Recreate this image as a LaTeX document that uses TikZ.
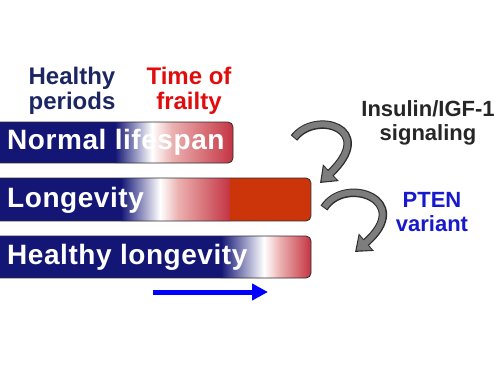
\documentclass[tikz,border=0pt]{standalone}
\usepackage{fontspec}
\setmainfont{Liberation Sans}
\usetikzlibrary{arrows.meta}
\definecolor{navy}{RGB}{20,22,118}
\definecolor{headnavy}{RGB}{28,38,98}
\definecolor{frailred}{RGB}{225,12,12}
\definecolor{pinkc}{RGB}{236,178,178}
\definecolor{redc}{RGB}{196,52,66}
\definecolor{orangered}{RGB}{204,52,10}
\definecolor{ptenblue}{RGB}{24,24,205}
\definecolor{txtdark}{RGB}{38,38,38}
\definecolor{arrowgray}{RGB}{125,125,125}
\definecolor{arrowline}{RGB}{45,45,45}
\tikzset{
  bartext/.style={text=white, anchor=west, inner sep=0pt, font=\bfseries\fontsize{28}{30}\selectfont\addfontfeatures{LetterSpace=2}},
  headtext/.style={align=center, inner sep=0pt, font=\bfseries\fontsize{24}{24.5}\selectfont},
  sidetext/.style={align=center, inner sep=0pt, font=\bfseries\fontsize{22}{24}\selectfont},
  barline/.style={draw=arrowline, line width=0.8pt, rounded corners=5pt},
  curveout/.style={line width=8.5pt, draw=arrowline, -{Triangle[width=22pt,length=15pt]}},
  curvein/.style={line width=6pt, draw=arrowgray, shorten >=2pt, shorten <=1pt, -{Triangle[width=18pt,length=12pt]}},
  bluearrow/.style={line width=5pt, draw=blue, -{Triangle[width=16pt,length=16pt]}}
}
\begin{document}
\begin{tikzpicture}[x=1pt,y=-1pt]
\useasboundingbox (0,0) rectangle (500,375);
% headers
\node[headtext, text=headnavy] (hp) at (72,91) {Healthy\\periods};
\node[headtext, text=frailred] (tf) at (189,91) {Time of\\frailty};
% bar 1
\begin{scope}
\clip[rounded corners=5pt] (-10,122) rectangle (233,163);
\fill[navy] (-10,122) rectangle (116,163);
\shade[left color=navy, right color=white] (115,122) rectangle (152,163);
\shade[left color=white, right color=pinkc] (152,122) rectangle (172,163);
\shade[left color=pinkc, right color=redc] (171.5,122) rectangle (233,163);
\end{scope}
\draw[barline] (-10,122) rectangle (233,163);
\node[bartext] (b1) at (7,142.5) {Normal lifespan};
% bar 2
\begin{scope}
\clip[rounded corners=5pt] (-10,178) rectangle (311,221);
\fill[navy] (-10,178) rectangle (122,221);
\shade[left color=navy, right color=white] (121,178) rectangle (160,221);
\shade[left color=white, right color=pinkc] (160,178) rectangle (178,221);
\shade[left color=pinkc, right color=redc] (177.5,178) rectangle (230,221);
\fill[orangered] (230,178) rectangle (311,221);
\end{scope}
\draw[barline] (-10,178) rectangle (311,221);
\node[bartext] (b2) at (7,200) {Longevity};
% bar 3
\begin{scope}
\clip[rounded corners=5pt] (-10,236) rectangle (311,278);
\fill[navy] (-10,236) rectangle (222,278);
\shade[left color=navy, right color=white] (221,236) rectangle (264,278);
\shade[left color=white, right color=pinkc] (264,236) rectangle (280,278);
\shade[left color=pinkc, right color=redc] (279.5,236) rectangle (311,278);
\end{scope}
\draw[barline] (-10,236) rectangle (311,278);
\node[bartext] (b3) at (7,257.5) {Healthy longevity};
% blue arrow
\coordinate (ba1) at (153,292);
\coordinate (ba2) at (268,292);
\draw[bluearrow] (ba1) -- (ba2);
% side texts
\node[sidetext, text=txtdark] (ins) at (428,123) {Insulin/IGF-1\\signaling};
\node[sidetext, text=ptenblue] (pten) at (432,212) {PTEN\\variant};
% curved arrows
\coordinate (c1s) at (294,138);
\coordinate (c1e) at (320,183);
\coordinate (c2s) at (324,208);
\coordinate (c2e) at (355,252);
\draw[curveout] (c1s) .. controls (315,110) and (378,128) .. (c1e);
\draw[curvein] (c1s) .. controls (315,110) and (378,128) .. (c1e);
\draw[curveout] (c2s) .. controls (345,175) and (415,200) .. (c2e);
\draw[curvein] (c2s) .. controls (345,175) and (415,200) .. (c2e);
\end{tikzpicture}
\end{document}
